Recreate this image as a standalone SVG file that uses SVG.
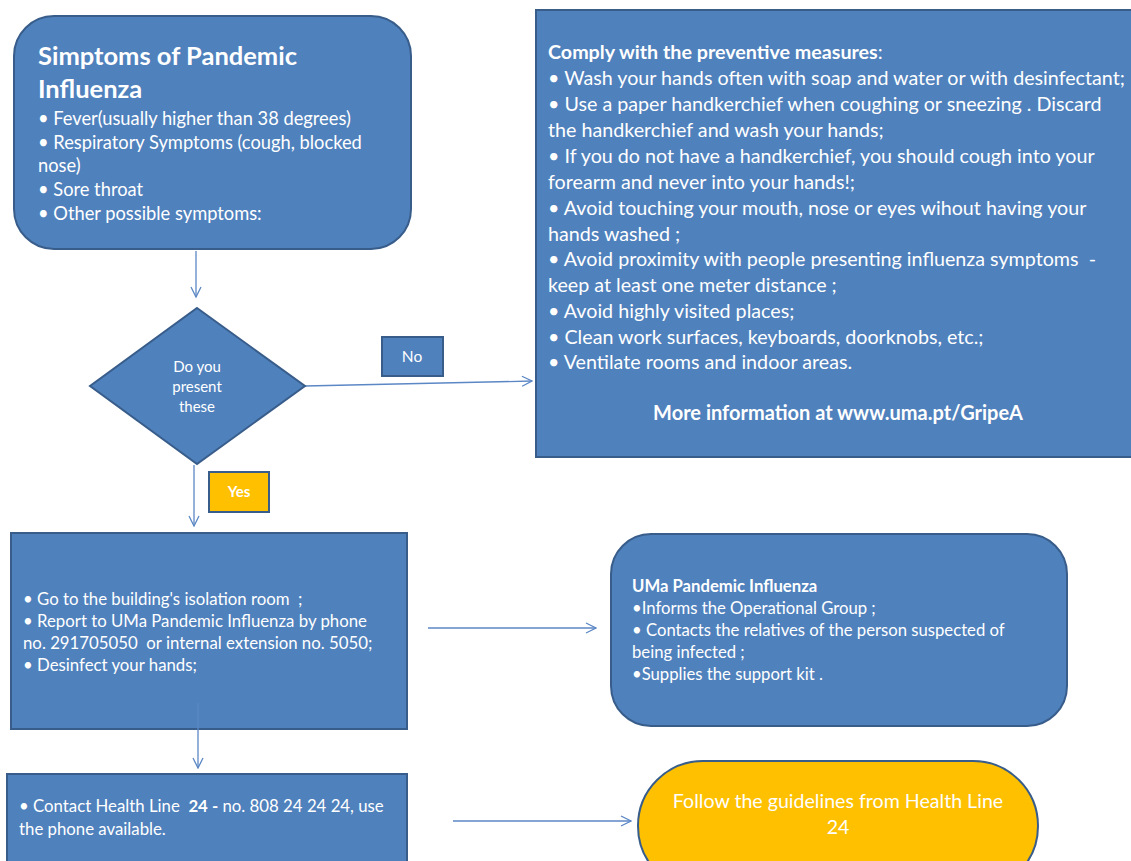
<svg xmlns="http://www.w3.org/2000/svg" width="1131" height="861" viewBox="0 0 1131 861">
<defs>
<marker id="arr" viewBox="0 0 12 12" refX="11" refY="6" markerWidth="12" markerHeight="12" markerUnits="userSpaceOnUse" orient="auto">
<path d="M1,1 L11,6 L1,11" fill="none" stroke="#5B87C5" stroke-width="1.3"/>
</marker>
<style>
.box{fill:#4F81BD;stroke:#385D8A;stroke-width:2}
.yel{fill:#FFC000;stroke:#385D8A;stroke-width:2}
.t{font-family:Lato,"Liberation Sans",sans-serif;fill:#FFFFFF}
.pre{white-space:pre}
.b{font-weight:bold}
.con{fill:none;stroke:#5B87C5;stroke-width:1.3;marker-end:url(#arr)}
</style>
</defs>
<rect width="1131" height="861" fill="#FFFFFF"/>
<g id="connectors">
<line class="con" x1="196" y1="251" x2="196" y2="297"/>
<line class="con" x1="305" y1="386" x2="532" y2="381"/>
<line class="con" x1="194" y1="465" x2="194" y2="526"/>
<line class="con" x1="428" y1="628" x2="596" y2="628"/>
<line class="con" x1="453" y1="821" x2="631" y2="821"/>
</g>
<g id="symptoms">
<rect class="box" x="14" y="16" width="397" height="233" rx="40"/>
<text class="t b" x="38" y="65" font-size="25.5">Simptoms of Pandemic</text>
<text class="t b" x="38" y="98" font-size="25.5">Influenza</text>
<text class="t" font-size="18.3">
<tspan x="38" y="125">• Fever(usually higher than 38 degrees)</tspan>
<tspan x="38" y="149">• Respiratory Symptoms (cough, blocked</tspan>
<tspan x="38" y="172">nose)</tspan>
<tspan x="38" y="196">• Sore throat</tspan>
<tspan x="38" y="220">• Other possible symptoms:</tspan>
</text>
</g>
<g id="decision">
<polygon class="box" points="197,308 305,386 197,464 90,386"/>
<text class="t" font-size="15" text-anchor="middle" x="197" y="372">Do you</text>
<text class="t" font-size="15" text-anchor="middle" x="197" y="392">present</text>
<text class="t" font-size="15" text-anchor="middle" x="197" y="412">these</text>
</g>
<g id="label-no">
<rect class="box" x="382" y="337" width="61" height="39"/>
<text class="t" x="412" y="362" font-size="15.5" text-anchor="middle">No</text>
</g>
<g id="label-yes">
<rect class="yel" x="209" y="472" width="60" height="40"/>
<text class="t b" x="239" y="497" font-size="15" text-anchor="middle">Yes</text>
</g>
<g id="prevention">
<rect class="box" x="536" y="10" width="605" height="447"/>
<text class="t pre" font-size="19.7">
<tspan x="548" y="59"><tspan class="b">Comply with the preventive measures</tspan>:</tspan>
<tspan x="548" y="85">• Wash your hands often with soap and water or with desinfectant;</tspan>
<tspan x="548" y="111">• Use a paper handkerchief when coughing or sneezing . Discard</tspan>
<tspan x="548" y="137">the handkerchief and wash your hands;</tspan>
<tspan x="548" y="163">• If you do not have a handkerchief, you should cough into your</tspan>
<tspan x="548" y="189">forearm and never into your hands!;</tspan>
<tspan x="548" y="215">• Avoid touching your mouth, nose or eyes wihout having your</tspan>
<tspan x="548" y="241">hands washed ;</tspan>
<tspan x="548" y="266">• Avoid proximity with people presenting influenza symptoms  -</tspan>
<tspan x="548" y="292">keep at least one meter distance ;</tspan>
<tspan x="548" y="318">• Avoid highly visited places;</tspan>
<tspan x="548" y="344">• Clean work surfaces, keyboards, doorknobs, etc.;</tspan>
<tspan x="548" y="369">• Ventilate rooms and indoor areas.</tspan>
</text>
<text class="t b" x="838" y="420" font-size="20" text-anchor="middle">More information at www.uma.pt/GripeA</text>
</g>
<g id="isolation">
<rect class="box" x="11" y="533" width="396" height="196"/>
<text class="t pre" font-size="16.8">
<tspan x="23" y="605">• Go to the building's isolation room  ;</tspan>
<tspan x="23" y="627">• Report to UMa Pandemic Influenza by phone</tspan>
<tspan x="23" y="649">no. 291705050  or internal extension no. 5050;</tspan>
<tspan x="23" y="671">• Desinfect your hands;</tspan>
</text>
</g>
<g id="connector-down">
<line class="con" x1="198" y1="703" x2="198" y2="768"/>
</g>
<g id="healthline">
<rect class="box" x="7" y="774" width="400" height="100"/>
<text class="t pre" font-size="16.8">
<tspan x="19" y="812">• Contact Health Line  <tspan class="b">24 -</tspan> no. 808 24 24 24, use</tspan>
<tspan x="19" y="835">the phone available.</tspan>
</text>
</g>
<g id="uma">
<rect class="box" x="611" y="534" width="456" height="192" rx="40"/>
<text class="t" font-size="16.7">
<tspan class="b" x="632" y="592">UMa Pandemic Influenza</tspan>
<tspan x="632" y="614">•Informs the Operational Group ;</tspan>
<tspan x="632" y="636">• Contacts the relatives of the person suspected of</tspan>
<tspan x="632" y="658">being infected ;</tspan>
<tspan x="632" y="680">•Supplies the support kit .</tspan>
</text>
</g>
<g id="follow">
<rect class="yel" x="638" y="761" width="400" height="130" rx="65"/>
<text class="t" font-size="19.6" text-anchor="middle" x="838" y="808">Follow the guidelines from Health Line</text>
<text class="t" font-size="19.6" text-anchor="middle" x="838" y="834">24</text>
</g>
</svg>
